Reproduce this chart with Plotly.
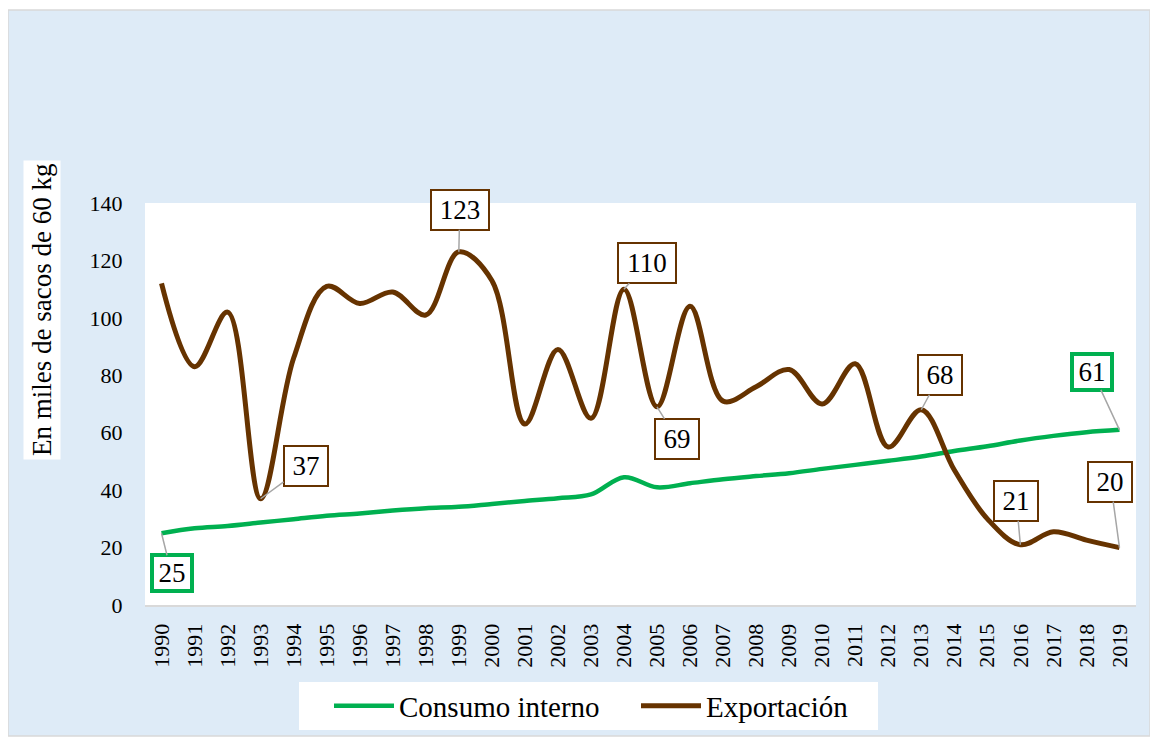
import plotly.graph_objects as go

years = [str(y) for y in range(1990, 2020)]
consumo_interno = [25, 26.7, 27.5, 28.7, 29.9, 31.1, 31.9, 32.9, 33.7, 34.2,
                   35.2, 36.2, 37.2, 38.5, 44.5, 41, 42.4, 43.8, 44.9, 45.9,
                   47.4, 48.8, 50.2, 51.7, 53.6, 55.3, 57.3, 58.9, 60.2, 61]
exportacion = [112, 83, 102, 37, 86, 111, 105, 109, 101, 123,
               113, 63, 89, 65, 110, 69, 104, 71, 76, 82,
               70, 84, 55, 68, 47, 30, 21, 25.5, 22.6, 20]

y_ticks = [0, 20, 40, 60, 80, 100, 120, 140]
y_title = "En miles de sacos de 60 kg"

GREEN = "#00B050"
BROWN = "#663300"
BG = "#DEEBF7"
FONT = "Liberation Serif, Times New Roman, serif"

# labels: (series, year, ax, ay)
labels = [
    ("c", "1990", 10, 40),
    ("c", "2019", -27, -58),
    ("e", "1993", 45, -33),
    ("e", "1999", 1, -42),
    ("e", "2004", 23, -26),
    ("e", "2005", 20, 32),
    ("e", "2013", 19, -35),
    ("e", "2016", -4, -44),
    ("e", "2019", -9, -66),
]

fig = go.Figure()
fig.add_trace(go.Scatter(x=years, y=consumo_interno, name="Consumo interno",
                         mode="lines", line=dict(color=GREEN, width=4.5, shape="spline", smoothing=1.0)))
fig.add_trace(go.Scatter(x=years, y=exportacion, name="Exportación",
                         mode="lines", line=dict(color=BROWN, width=5, shape="spline", smoothing=1.0)))

annotations = []
for s, yr, ax, ay in labels:
    arr = consumo_interno if s == "c" else exportacion
    i = years.index(yr)
    v = arr[i]
    txt = str(int(round(v)))
    if s == "c":
        col, bw, w, h = GREEN, 4, 36, 32
    else:
        col, bw, w, h = BROWN, 2, 42 if len(txt) == 2 else 56, 38
    annotations.append(dict(
        x=i, y=v, xref="x", yref="y", text=txt, showarrow=True,
        arrowhead=0, arrowwidth=1.5, arrowcolor="#A6A6A6", ax=ax, ay=ay,
        font=dict(family=FONT, size=27, color="black"),
        bgcolor="white", bordercolor=col, borderwidth=bw, borderpad=0,
        width=w, height=h, align="center", valign="middle", standoff=0))

# page body has an 8px margin: work in reference pixels minus 8
OFF = 8
W, H = 1158, 740
PL, PR, PT, PB = 145 - OFF, 1136 - OFF, 203 - OFF, 605 - OFF
L, R, T, B = PL, W - PR, PT, H - PB
pw, ph = PR - PL, PB - PT

def px(x):
    return (x - OFF - PL) / pw

def py(y):
    return (PB - (y - OFF)) / ph

# y-axis title with white background
annotations.append(dict(
    x=px(42), y=py(310), xref="paper", yref="paper", text=y_title,
    showarrow=False, textangle=-90, xanchor="center", yanchor="middle",
    font=dict(family=FONT, size=27, color="black"),
    bgcolor="white", borderpad=3))

shapes = [
    dict(type="rect", xref="paper", yref="paper", x0=px(8), x1=px(1150), y0=py(736), y1=py(10),
         fillcolor=BG, line=dict(color="#D9D9D9", width=1.5), layer="below"),
    dict(type="rect", xref="paper", yref="paper", x0=0, x1=1, y0=0, y1=1,
         fillcolor="white", line=dict(width=0), layer="below"),
    dict(type="rect", xref="paper", yref="paper", x0=px(299), x1=px(878), y0=py(730), y1=py(682),
         fillcolor="white", line=dict(width=0), layer="below"),
]

fig.update_layout(
    width=W, height=H,
    margin=dict(l=L, r=R, t=T, b=B),
    paper_bgcolor="white", plot_bgcolor="rgba(0,0,0,0)",
    font=dict(family=FONT, size=22, color="black"),
    showlegend=True,
    legend=dict(orientation="h", x=px(329), y=py(706), xanchor="left", yanchor="middle",
                bgcolor="rgba(0,0,0,0)", font=dict(family=FONT, size=29, color="black"),
                itemwidth=60, entrywidth=232, entrywidthmode="pixels"),
    annotations=annotations,
    shapes=shapes,
)
fig.update_xaxes(type="category", range=[-0.5, len(years) - 0.5], autorange=False,
                 tickangle=-90, showgrid=False, zeroline=False,
                 showline=True, linecolor="#D9D9D9", linewidth=2,
                 ticks="outside", ticklen=8, tickcolor="rgba(0,0,0,0)",
                 tickfont=dict(family=FONT, size=22))
fig.update_yaxes(range=[0, 140], autorange=False, tickvals=y_ticks, showgrid=False, zeroline=False,
                 showline=False, ticks="outside", ticklen=17, tickcolor="rgba(0,0,0,0)",
                 tickfont=dict(family=FONT, size=22))

fig.write_html("out.html")
